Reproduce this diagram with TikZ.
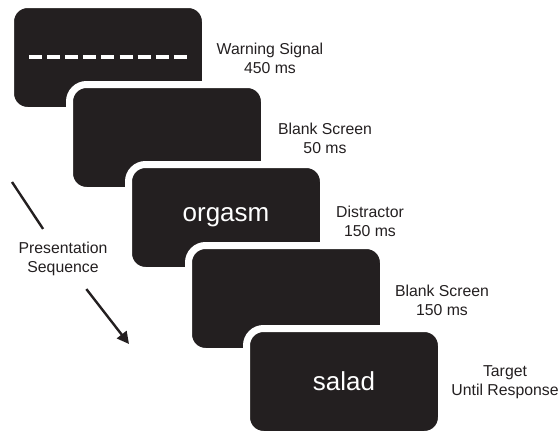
\documentclass[tikz,border=0pt]{standalone}
\usepackage{fontspec}
\setmainfont{Liberation Sans}
\usetikzlibrary{arrows.meta}
\definecolor{scr}{HTML}{231F20}
\begin{document}
\begin{tikzpicture}[x=1pt,y=-1pt,
  screen/.style={rectangle, fill=scr, draw=white, line width=7pt, rounded corners=17pt,
    minimum width=195pt, minimum height=106pt, inner sep=0pt, outer sep=0pt, anchor=north west,
    text=white, font=\fontsize{26}{30}\selectfont},
  lbl/.style={align=center, text=scr, font=\fontsize{15.8}{19}\selectfont, inner sep=0pt},
  seq/.style={scr, line width=2.4pt}]
\useasboundingbox (0,0) rectangle (560,431);
\node[screen] (s1) at (10.5,4.5) {};
\node[screen] (s2) at (69.5,84.5) {};
\node[screen] (s3) at (128.5,164.5) {orgasm};
\node[screen] (s4) at (188.5,245.5) {};
\node[screen] (s5) at (246.5,328.5) {salad};
\draw[white, line width=4pt, dash pattern=on 13pt off 5.1pt] (29,57) -- (187,57);
\node[lbl] (l1) at (270,58) {Warning Signal\\450 ms};
\node[lbl] (l2) at (325,138) {Blank Screen\\50 ms};
\node[lbl] (l3) at (370,221) {Distractor\\150 ms};
\node[lbl] (l4) at (442,300) {Blank Screen\\150 ms};
\node[lbl] (l5) at (505,382) {Target\\Until Response};
\node[lbl, inner xsep=4pt, inner ysep=13pt] (ps) at (63,259) {Presentation\\Sequence};
\coordinate (top) at (12,182);
\coordinate (tip) at (129,344);
\draw[seq] (top) -- (ps);
\draw[seq, -{Triangle[length=12pt,width=12pt]}] (ps) -- (tip);
\end{tikzpicture}
\end{document}
